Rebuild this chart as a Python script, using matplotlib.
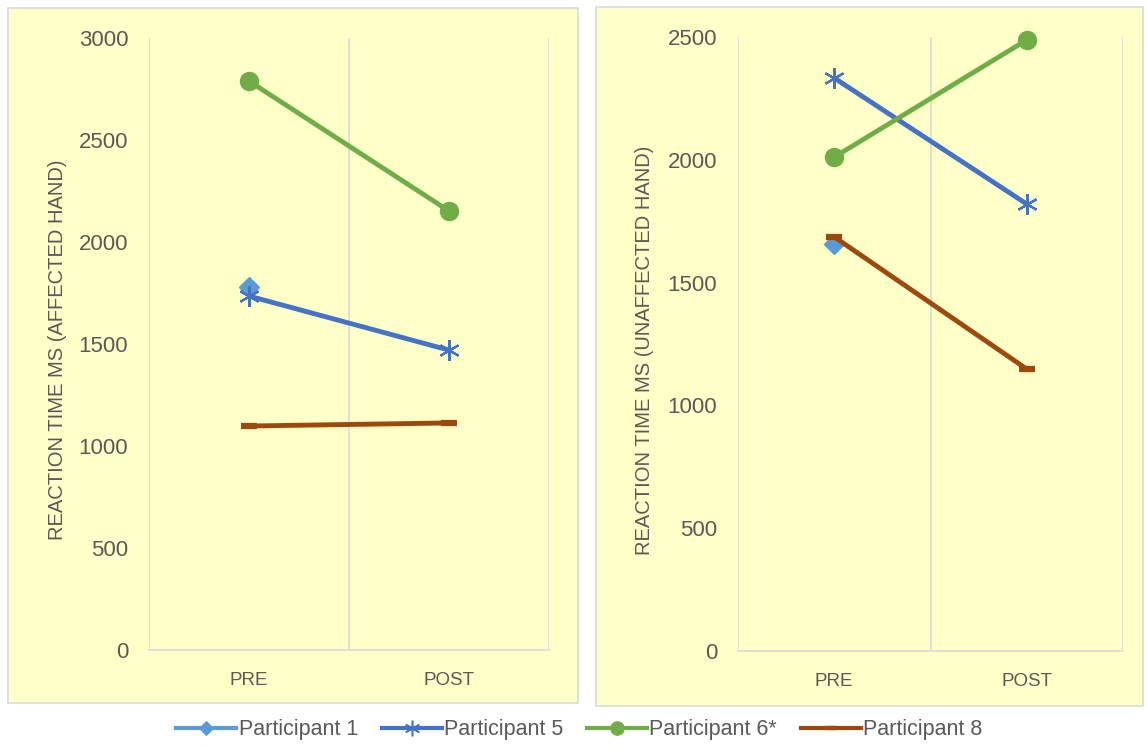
import numpy as np
import matplotlib.pyplot as plt
from matplotlib.patches import Rectangle
from matplotlib.lines import Line2D

plt.rcParams['font.family'] = ['Liberation Sans', 'DejaVu Sans']

# Data
phases = ["PRE", "POST"]
names = ["Participant 1", "Participant 5", "Participant 6*", "Participant 8"]

affected_p1 = [1779, None]
affected_p5 = [1735, 1470]
affected_p6 = [2789, 2152]
affected_p8 = [1098, 1113]

unaffected_p1 = [1657, None]
unaffected_p5 = [2333, 1820]
unaffected_p6 = [2011, 2488]
unaffected_p8 = [1686, 1148]

left_ticks = [0, 500, 1000, 1500, 2000, 2500, 3000]
right_ticks = [0, 500, 1000, 1500, 2000, 2500]

colors = ["#5B9BD5", "#4472C4", "#70AD47", "#9E480E"]
markers = ["D", (6, 2, 0), "o", "_"]
msizes = [10, 15, 13, 11]
mews = [1, 1.6, 1, 4.5]
bg = "#FFFFC8"
grid = "#D9D9D9"
txt = "#595959"

W, H = 1147, 747
fig = plt.figure(figsize=(W / 100, H / 100), dpi=100)
fig.patch.set_facecolor("white")


def px_rect(x0, y0, x1, y1):
    return Rectangle((x0 / W, 1 - y1 / H), (x1 - x0) / W, (y1 - y0) / H,
                     transform=fig.transFigure, facecolor=bg, edgecolor=grid,
                     linewidth=1.2, zorder=-5)


fig.patches.append(px_rect(8, 8, 578, 703))
fig.patches.append(px_rect(596, 7, 1143, 706))


def px_axes(x0, y0, x1, y1):
    return fig.add_axes([x0 / W, 1 - y1 / H, (x1 - x0) / W, (y1 - y0) / H])


def draw(ax, series, ticks, ylabel, label_x):
    ax.set_facecolor("none")
    ax.set_zorder(2)
    x = np.arange(len(phases))
    for vals, c, m, ms, mw in zip(series, colors, markers, msizes, mews):
        v = np.array([np.nan if a is None else a for a in vals], dtype=float)
        ax.plot(x, v, color=c, lw=3.5, marker=m, markersize=ms,
                markeredgewidth=mw, markeredgecolor=c, markerfacecolor=c,
                solid_capstyle="butt", zorder=3, clip_on=False)
    ax.set_xlim(-0.5, 1.5)
    ax.set_ylim(ticks[0], ticks[-1])
    ax.set_yticks(ticks)
    ax.set_xticks(x)
    ax.set_xticklabels(phases)
    for b in [-0.5, 0.5, 1.5]:
        ax.axvline(b, color=grid, lw=1.2, zorder=1)
    for s in ["top", "right", "left"]:
        ax.spines[s].set_visible(False)
    ax.spines["bottom"].set_color(grid)
    ax.spines["bottom"].set_linewidth(1.2)
    ax.tick_params(length=0, colors=txt, labelsize=16)
    ax.tick_params(axis="y", pad=15)
    ax.tick_params(axis="x", pad=16)
    for lab in ax.get_xticklabels():
        lab.set_fontsize(13.5)
    ax.set_ylabel(ylabel, color=txt, fontsize=14.5)
    ax.yaxis.set_label_coords(label_x, 0.49)


ax1 = px_axes(149, 38, 549, 650)
draw(ax1, [affected_p1, affected_p5, affected_p6, affected_p8], left_ticks,
     "REACTION TIME MS (AFFECTED HAND)", -0.205)

ax2 = px_axes(738, 37, 1123, 651)
draw(ax2, [unaffected_p1, unaffected_p5, unaffected_p6, unaffected_p8], right_ticks,
     "REACTION TIME MS (UNAFFECTED HAND)", -0.218)

handles = [Line2D([0], [0], color=c, lw=3, marker=m, markersize=ms * 0.75,
                  markeredgewidth=mw * 0.7, markeredgecolor=c, markerfacecolor=c)
           for c, m, ms, mw in zip(colors, markers, msizes, mews)]
fig.legend(handles, names, loc="center", bbox_to_anchor=(0.505, 1 - 730 / H),
           ncol=4, frameon=False, fontsize=15.5, handlelength=2.8,
           handletextpad=0.1, columnspacing=1.1, labelcolor=txt)

fig.savefig("out.png", dpi=100)
